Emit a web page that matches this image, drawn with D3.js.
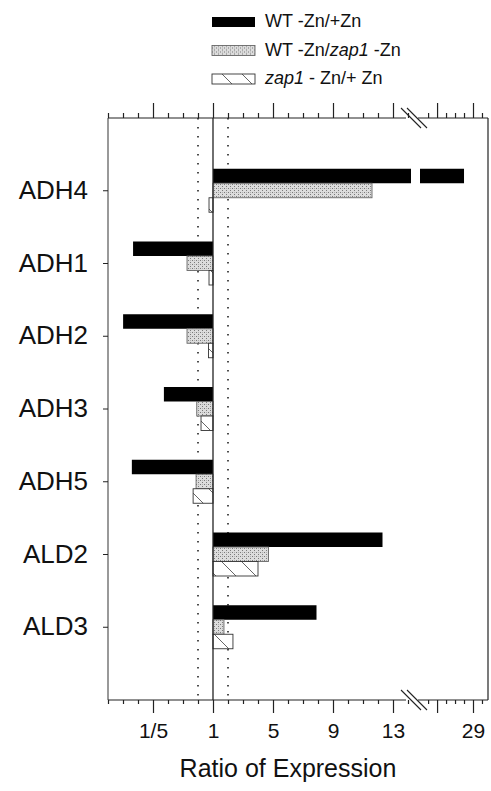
<!DOCTYPE html>
<html>
<head>
<meta charset="utf-8">
<script src="https://cdn.jsdelivr.net/npm/d3@7"></script>
<style>
  body { margin: 0; background: #fff; }
  svg { font-family: "Liberation Sans", Arial, sans-serif; }
</style>
</head>
<body>
<div id="chart"></div>
<script>
// genes, top to bottom
var genes = ["ADH4", "ADH1", "ADH2", "ADH3", "ADH5", "ALD2", "ALD3"];

// ratio of expression, one array per series
var wtZnPlusZn   = [28, 0.158, 0.143, 0.234, 0.156, 12.3, 7.9];
var wtZnZap1Zn   = [11.6, 0.366, 0.366, 0.48, 0.47, 4.7, 1.73];
var zap1ZnPlusZn = [0.79, 0.79, 0.77, 0.556, 0.43, 4.0, 2.33];

var seriesNames = ["WT -Zn/+Zn", "WT -Zn/zap1 -Zn", "zap1 - Zn/+ Zn"];

// x ticks, in "fold" units (r >= 1 -> r, r < 1 -> 2 - 1/r)
var majorTicks = [-3, 1, 5, 9, 13, 25, 29];
var majorLabels = ["1/5", "1", "5", "9", "13", "", "29"];
var minorTicks = [-6, -5, -4, -2, -1, 0, 2, 3, 4, 6, 7, 8, 10, 11, 12, 14, 24, 26, 27, 28, 30];
var foldLines = [0.5, 2];

function fold(r) { return r >= 1 ? r : 2 - 1 / r; }

var W = 491, H = 791;
var plotL = 108, plotR = 488, plotT = 118, plotB = 700;
var breakLo = 14.2, breakHi = 23.1;

var svg = d3.select("#chart").append("svg")
    .attr("width", W)
    .attr("height", H);

var defs = svg.append("defs");

// stippled grey fill
var stip = defs.append("pattern")
    .attr("id", "stipple")
    .attr("patternUnits", "userSpaceOnUse")
    .attr("width", 4).attr("height", 4);
stip.append("rect").attr("width", 4).attr("height", 4).attr("fill", "#dcdcdc");
stip.append("rect").attr("x", 0).attr("y", 0).attr("width", 1).attr("height", 1).attr("fill", "#7a7a7a");
stip.append("rect").attr("x", 2).attr("y", 2).attr("width", 1).attr("height", 1).attr("fill", "#7a7a7a");
stip.append("rect").attr("x", 2).attr("y", 0).attr("width", 1).attr("height", 1).attr("fill", "#b0b0b0");

// sparse diagonal hatch
var hatch = defs.append("pattern")
    .attr("id", "hatch")
    .attr("patternUnits", "userSpaceOnUse")
    .attr("width", 20).attr("height", 20);
hatch.append("rect").attr("width", 20).attr("height", 20).attr("fill", "#fff");
hatch.append("path").attr("d", "M0,0L20,20M-10,10L0,20M10,-10L20,0")
    .attr("stroke", "#555").attr("stroke-width", 0.9);

var fills = ["#000", "url(#stipple)", "url(#hatch)"];
var strokes = ["#000", "#666", "#333"];

// x scale with a break between 14.2 and 23.1
var x = d3.scaleLinear()
    .domain([-6, breakLo, breakHi, 30.67])
    .range([plotL, plotL + (breakLo + 6) * 15, 420, plotR]);

var y = d3.scalePoint()
    .domain(genes)
    .range([plotT, plotB])
    .padding(1);

var barH = 14.5;

// frame
svg.append("line").attr("x1", plotL).attr("x2", plotL).attr("y1", plotT).attr("y2", plotB)
    .attr("stroke", "#555").attr("stroke-width", 1.2);
svg.append("line").attr("x1", plotR).attr("x2", plotR).attr("y1", plotT).attr("y2", plotB)
    .attr("stroke", "#222").attr("stroke-width", 1.2);

// fold-change guides
svg.selectAll(".fold")
    .data(foldLines)
    .enter()
    .append("line")
    .attr("x1", function(d) { return x(fold(d)); })
    .attr("x2", function(d) { return x(fold(d)); })
    .attr("y1", plotT)
    .attr("y2", plotB)
    .attr("stroke", "#222")
    .attr("stroke-width", 1.6)
    .attr("stroke-dasharray", "1.5,7.5");

// bars
var series = [wtZnPlusZn, wtZnZap1Zn, zap1ZnPlusZn];
var offsets = [-22, -7.5, 7];

function pieces(v) {
    var t = fold(v);
    if (t > breakLo) return [[1, breakLo], [breakHi, t]];
    return [[Math.min(1, t), Math.max(1, t)]];
}

series.forEach(function(vals, si) {
    var rows = [];
    vals.forEach(function(v, i) {
        pieces(v).forEach(function(p) { rows.push({gene: genes[i], a: p[0], b: p[1]}); });
    });
    svg.append("g")
        .selectAll("rect")
        .data(rows)
        .enter()
        .append("rect")
        .attr("x", function(d) { return x(d.a); })
        .attr("width", function(d) { return x(d.b) - x(d.a); })
        .attr("y", function(d) { return y(d.gene) + offsets[si]; })
        .attr("height", barH)
        .attr("fill", fills[si])
        .attr("stroke", strokes[si])
        .attr("stroke-width", si == 0 ? 0 : 0.9);
});

// baseline at ratio 1
svg.append("line")
    .attr("x1", x(1)).attr("x2", x(1))
    .attr("y1", plotT).attr("y2", plotB)
    .attr("stroke", "#222").attr("stroke-width", 1.3);

// axes
function drawAxis(axisFn, ypos, major, minor) {
    var gMaj = svg.append("g")
        .attr("transform", "translate(0," + ypos + ")")
        .call(axisFn(x).tickValues(majorTicks).tickSize(major)
            .tickFormat(function(d, i) { return majorLabels[i]; }));
    var gMin = svg.append("g")
        .attr("transform", "translate(0," + ypos + ")")
        .call(axisFn(x).tickValues(minorTicks).tickSize(minor).tickFormat(""));
    [gMaj, gMin].forEach(function(g) {
        g.select(".domain").remove();
        g.selectAll("line").attr("stroke", "#222").attr("stroke-width", 1.2);
    });
    return gMaj;
}

var topAxis = drawAxis(d3.axisTop, plotT, 15, 5);
topAxis.selectAll("text").remove();
var botAxis = drawAxis(d3.axisBottom, plotB, 13, 4);
botAxis.selectAll("text")
    .attr("font-size", 21)
    .attr("font-family", "Liberation Sans, Arial, sans-serif")
    .attr("fill", "#111")
    .attr("dy", "1.05em");

// axis lines with breaks
[plotT, plotB].forEach(function(yy) {
    svg.append("line").attr("x1", plotL).attr("x2", x(breakLo) - 5).attr("y1", yy).attr("y2", yy)
        .attr("stroke", "#222").attr("stroke-width", 1.2);
    svg.append("line").attr("x1", x(breakHi) - 2).attr("x2", plotR).attr("y1", yy).attr("y2", yy)
        .attr("stroke", "#222").attr("stroke-width", 1.2);
    [0, 6].forEach(function(dx) {
        svg.append("line")
            .attr("x1", 401 + dx).attr("y1", yy - 10)
            .attr("x2", 421 + dx).attr("y2", yy + 10)
            .attr("stroke", "#222").attr("stroke-width", 1.1);
    });
});

// y axis ticks and labels
svg.append("g")
    .selectAll("line")
    .data(genes)
    .enter()
    .append("line")
    .attr("x1", plotL - 5).attr("x2", plotL)
    .attr("y1", function(d) { return y(d); })
    .attr("y2", function(d) { return y(d); })
    .attr("stroke", "#222");

svg.append("g")
    .selectAll("text")
    .data(genes)
    .enter()
    .append("text")
    .attr("x", 88)
    .attr("y", function(d) { return y(d) + 8; })
    .attr("text-anchor", "end")
    .attr("font-size", 26)
    .attr("fill", "#111")
    .text(function(d) { return d; });

// x title
svg.append("text")
    .attr("x", 288)
    .attr("y", 777)
    .attr("text-anchor", "middle")
    .attr("font-size", 25)
    .attr("fill", "#111")
    .text("Ratio of Expression");

// legend
var legendY = [27, 55.5, 84];
var leg = svg.append("g").selectAll("g")
    .data(seriesNames)
    .enter()
    .append("g")
    .attr("transform", function(d, i) { return "translate(212," + legendY[i] + ")"; });

leg.append("rect")
    .attr("x", 0).attr("y", -10)
    .attr("width", 43).attr("height", 10)
    .attr("fill", function(d, i) { return fills[i]; })
    .attr("stroke", function(d, i) { return strokes[i]; })
    .attr("stroke-width", function(d, i) { return i == 0 ? 0 : 0.9; });

leg.append("text")
    .attr("x", 53)
    .attr("font-size", 18)
    .attr("fill", "#111")
    .each(function(d) {
        var t = d3.select(this);
        var parts = d.split("zap1");
        parts.forEach(function(p, j) {
            if (j > 0) t.append("tspan").attr("font-style", "italic").text("zap1");
            if (p) t.append("tspan").text(p);
        });
    });
</script>
</body>
</html>
